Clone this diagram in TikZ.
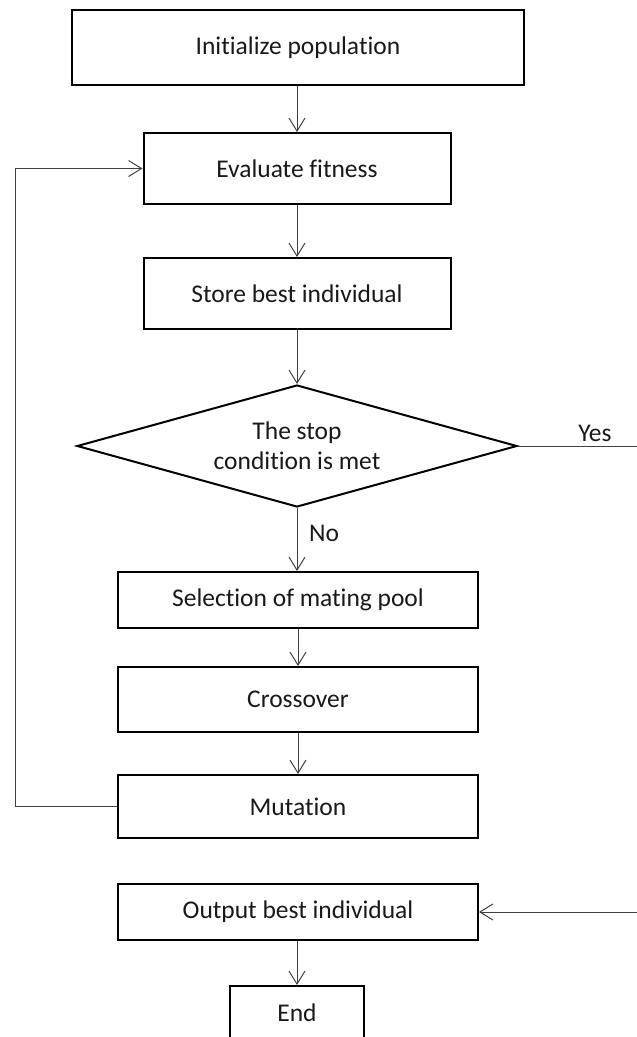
\documentclass[tikz,border=0pt]{standalone}
\usepackage{fontspec}
\setmainfont{Carlito}[RawFeature={-liga;-clig;-dlig}]
\usetikzlibrary{arrows.meta,shapes.geometric}
\begin{document}
\begin{tikzpicture}[x=1pt,y=-1pt,
  every node/.style={font=\fontsize{25.5}{30}\selectfont, text=black!90},
  box/.style={draw=black, line width=2pt, rectangle, inner sep=0pt, align=center},
  decision/.style={draw=black, line width=2pt, diamond, aspect=3.6, inner sep=0pt, align=center, minimum width=440pt, minimum height=122pt},
  conn/.style={draw=black!75, line width=1pt, -{Straight Barb[length=13pt,width=16pt]}},
  plain/.style={draw=black!75, line width=1pt},
  lbl/.style={inner sep=0pt}]
\useasboundingbox (0,0) rectangle (637,1037);
\clip (0,0) rectangle (637,1037);

\node[box, minimum width=452pt, minimum height=75pt] (init) at (298,47.5) {Initialize population};
\node[box, minimum width=307pt, minimum height=71pt] (eval) at (297,168.5) {Evaluate fitness};
\node[box, minimum width=307pt, minimum height=71pt] (store) at (297,293.5) {Store best individual};
\node[decision] (dec) at (297,446) {The stop\\condition is met};
\node[box, minimum width=360pt, minimum height=56pt] (sel) at (298,600) {Selection of mating pool};
\node[box, minimum width=360pt, minimum height=65pt] (cross) at (298,699.5) {Crossover};
\node[box, minimum width=360pt, minimum height=63pt] (mut) at (298,806.5) {Mutation};
\node[box, minimum width=360pt, minimum height=56pt] (out) at (298,912) {Output best individual};
\node[box, minimum width=134pt, minimum height=54pt] (end) at (297,1013) {End};

\node[lbl] (yes) at (595,433) {Yes};
\node[lbl] (no) at (324,533) {No};

\coordinate (yesend) at (640,446);
\coordinate (outstart) at (640,912);
\coordinate (loopcorner) at (15,806.5);

\draw[conn] (init.south -| eval.north) -- (eval.north);
\draw[conn] (eval) -- (store);
\draw[conn] (store.south) -- (dec.north);
\draw[conn] (dec.south) -- (dec.south |- sel.north);
\draw[conn] (sel.south) -- (sel.south |- cross.north);
\draw[conn] (cross) -- (mut);
\draw[conn] (out.south -| end.north) -- (end.north);
\draw[conn] (mut.west) -- (loopcorner) |- (eval.west);
\draw[plain] (dec.east) -- (yesend);
\draw[conn] (outstart) -- (out.east);
\end{tikzpicture}
\end{document}
